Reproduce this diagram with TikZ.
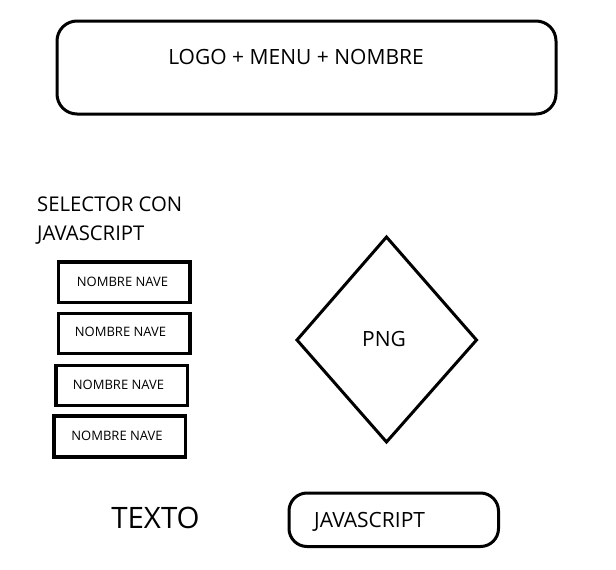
\documentclass[tikz,border=0pt]{standalone}
\usepackage{fontspec}
\setmainfont{Open Sans}
\usetikzlibrary{shapes.geometric}
\begin{document}
\begin{tikzpicture}[x=1pt,y=-1pt,
  rbox/.style={draw=black,line width=3pt,rounded corners=20pt},
  navebox/.style={draw=black,line width=3.5pt,minimum width=130pt,minimum height=40pt,inner sep=0pt,outer sep=0pt},
  navetxt/.style={font=\fontsize{13}{15}\selectfont},
  bigtxt/.style={font=\fontsize{21}{25}\selectfont}
]
\useasboundingbox (0,0) rectangle (616,570);
% header
\draw[rbox] (57,21) rectangle (556,114);
\node[bigtxt,inner sep=0pt] (header) at (296,57) {LOGO + MENU + NOMBRE};
% selector label
\node[font=\fontsize{20.3}{29}\selectfont,anchor=north west,align=left,inner sep=0pt] (sel) at (37,196.5) {SELECTOR CON\\JAVASCRIPT};
% nave boxes
\node[navebox,minimum width=131.5pt,minimum height=40.5pt] (n1) at (124,282) {};
\node[navetxt] (t1) at (122.5,282) {NOMBRE NAVE};
\node[navebox,minimum width=131.5pt,minimum height=40pt] (n2) at (124,333.5) {};
\node[navetxt] (t2) at (120.5,331.5) {NOMBRE NAVE};
\node[navebox,minimum width=131.5pt,minimum height=40pt] (n3) at (121.5,385.5) {};
\node[navetxt] (t3) at (118.5,384.5) {NOMBRE NAVE};
\node[navebox,minimum width=131.5pt,minimum height=41pt] (n4) at (119.5,436.5) {};
\node[navetxt] (t4) at (117,435.5) {NOMBRE NAVE};
% diamond
\draw[line width=3pt] (386.5,237) -- (476.5,340) -- (386.5,442) -- (297,340) -- cycle;
\node[bigtxt,inner sep=0pt] (png) at (384,339) {PNG};
% texto
\node[font=\fontsize{29.5}{33}\selectfont,inner sep=0pt] (texto) at (155.5,518) {TEXTO};
% javascript box
\draw[rbox,rounded corners=18pt] (289,493) rectangle (498.5,546.5);
\node[bigtxt,anchor=west,inner sep=0pt] (js) at (314,522) {JAVASCRIPT};
\end{tikzpicture}
\end{document}
